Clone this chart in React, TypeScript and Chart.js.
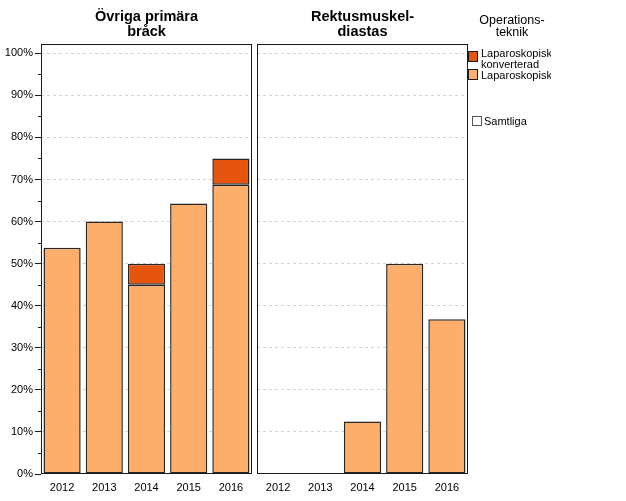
import React, { useEffect, useRef } from 'react';
import { Chart, registerables } from 'chart.js';
Chart.register(...registerables);

const years = ['2012', '2013', '2014', '2015', '2016'];
const leftTitle = ['Övriga primära', 'bråck'];
const rightTitle = ['Rektusmuskel-', 'diastas'];
const leftLaparoskopisk = [53.8, 60, 45, 64.3, 68.75];
const leftKonverterad = [null, null, 5, null, 6.25];
const rightLaparoskopisk = [null, null, 12.5, 50, 36.8];
const rightKonverterad = [null, null, null, null, null];
const majorTicks = [0, 10, 20, 30, 40, 50, 60, 70, 80, 90, 100];
const minorTicks = [5, 15, 25, 35, 45, 55, 65, 75, 85, 95];
const legendTitle = ['Operations-', 'teknik'];
const legendKonverterad = ['Laparoskopisk', 'konverterad'];
const legendLap = 'Laparoskopisk';
const legendAll = 'Samtliga';

const LIGHT = '#FDAE6B';
const DARK = '#E6550D';
const EDGE = '#262626';
const FONT = 'Liberation Sans, Arial, sans-serif';

const framePlugin = {
  id: 'frame',
  afterDraw(chart: any, _args: any, opts: any) {
    const { ctx, chartArea } = chart;
    const l = Math.round(chartArea.left);
    const t = Math.round(chartArea.top);
    const r = Math.round(chartArea.right);
    const b = Math.round(chartArea.bottom);
    ctx.save();
    ctx.strokeStyle = '#1a1a1a';
    ctx.lineWidth = 1;
    ctx.strokeRect(l + 0.5, t + 0.5, r - l - 1, b - t - 1);
    if (opts && opts.minor) {
      const y = chart.scales.y;
      ctx.beginPath();
      for (const v of minorTicks) {
        const py = Math.round(y.getPixelForValue(v)) + 0.5;
        ctx.moveTo(l - 3, py);
        ctx.lineTo(l, py);
      }
      ctx.stroke();
    }
    ctx.restore();
  },
};

function makeConfig(title: string[], lap: (number | null)[], konv: (number | null)[], showY: boolean) {
  return {
    type: 'bar' as const,
    data: {
      labels: years,
      datasets: [
        {
          label: 'Laparoskopisk',
          data: lap,
          backgroundColor: LIGHT,
          borderColor: EDGE,
          borderWidth: 1.5,
          borderSkipped: false,
          barPercentage: 0.88,
          categoryPercentage: 1,
        },
        {
          label: 'Laparoskopisk konverterad',
          data: konv,
          backgroundColor: DARK,
          borderColor: EDGE,
          borderWidth: 1.5,
          borderSkipped: false,
          barPercentage: 0.88,
          categoryPercentage: 1,
        },
      ],
    },
    options: {
      responsive: false,
      animation: false,
      devicePixelRatio: 1,
      layout: { padding: showY ? { left: 0, right: 4, top: 0, bottom: 0 } : { left: 0, right: 6, top: 0, bottom: 0 } },
      plugins: {
        legend: { display: false },
        tooltip: { enabled: false },
        title: {
          display: true,
          text: title,
          fullSize: false,
          color: '#000',
          font: { family: FONT, size: 14.5, weight: 'bold', lineHeight: 1.0 },
          padding: { top: 10, bottom: 5 },
        },
        frame: { minor: showY },
      },
      scales: {
        x: {
          stacked: true,
          grid: { display: false, drawTicks: false },
          border: { display: false },
          afterFit: (s: any) => { s.height = 27; },
          ticks: { color: '#000', font: { family: FONT, size: 11 }, padding: 7 },
        },
        y: {
          stacked: true,
          min: 0,
          max: 102.2,
          afterBuildTicks: (s: any) => { s.ticks = majorTicks.map((v) => ({ value: v })); },
          afterFit: (s: any) => { s.width = showY ? 41 : 5; },
          border: { display: false, dash: [3, 3] },
          grid: {
            color: (c: any) => (c.tick && c.tick.value > 0 ? '#d4d4d4' : 'rgba(0,0,0,0)'),
            drawTicks: showY,
            tickLength: 6,
            tickColor: '#1a1a1a',
          },
          ticks: {
            display: showY,
            autoSkip: false,
            color: '#000',
            padding: 2,
            font: { family: FONT, size: 11 },
            callback: (v: any) => v + '%',
          },
        },
      },
    },
    plugins: [framePlugin],
  };
}

export default function App() {
  const leftRef = useRef<HTMLCanvasElement>(null);
  const rightRef = useRef<HTMLCanvasElement>(null);

  useEffect(() => {
    const c1 = new Chart(leftRef.current as HTMLCanvasElement, makeConfig(leftTitle, leftLaparoskopisk, leftKonverterad, true) as any);
    const c2 = new Chart(rightRef.current as HTMLCanvasElement, makeConfig(rightTitle, rightLaparoskopisk, rightKonverterad, false) as any);
    return () => {
      c1.destroy();
      c2.destroy();
    };
  }, []);

  const txt: React.CSSProperties = { position: 'absolute', fontFamily: FONT, fontSize: 11, color: '#000', whiteSpace: 'nowrap' };

  return (
    <div style={{ position: 'absolute', left: 0, top: 0, width: 626, height: 501, background: '#fff', overflow: 'hidden' }}>
      <canvas ref={leftRef} width={256} height={501} style={{ position: 'absolute', left: 0, top: 0, width: 256, height: 501 }} />
      <canvas ref={rightRef} width={222} height={501} style={{ position: 'absolute', left: 252, top: 0, width: 222, height: 501 }} />
      <div style={{ position: 'absolute', left: 462, top: 15, width: 100, textAlign: 'center', fontFamily: FONT, fontSize: 12.5, lineHeight: '11.5px', color: '#000' }}>
        {legendTitle.map((t) => (<div key={t}>{t}</div>))}
      </div>
      <div style={{ position: 'absolute', left: 468, top: 51, width: 10, height: 11, boxSizing: 'border-box', background: DARK, border: '1px solid #1a1a1a' }} />
      <div style={{ ...txt, left: 481, top: 48, lineHeight: '10.5px', width: 70, overflow: 'hidden' }}>
        {legendKonverterad.map((t) => (<div key={t}>{t}</div>))}
      </div>
      <div style={{ position: 'absolute', left: 468, top: 69, width: 10, height: 11, boxSizing: 'border-box', background: LIGHT, border: '1px solid #1a1a1a' }} />
      <div style={{ ...txt, left: 481, top: 70, lineHeight: '10.5px', width: 70, overflow: 'hidden' }}>{legendLap}</div>
      <div style={{ position: 'absolute', left: 472, top: 116, width: 10, height: 10, boxSizing: 'border-box', background: '#fff', border: '1px solid #555' }} />
      <div style={{ ...txt, left: 484, top: 116, lineHeight: '10.5px' }}>{legendAll}</div>
    </div>
  );
}
